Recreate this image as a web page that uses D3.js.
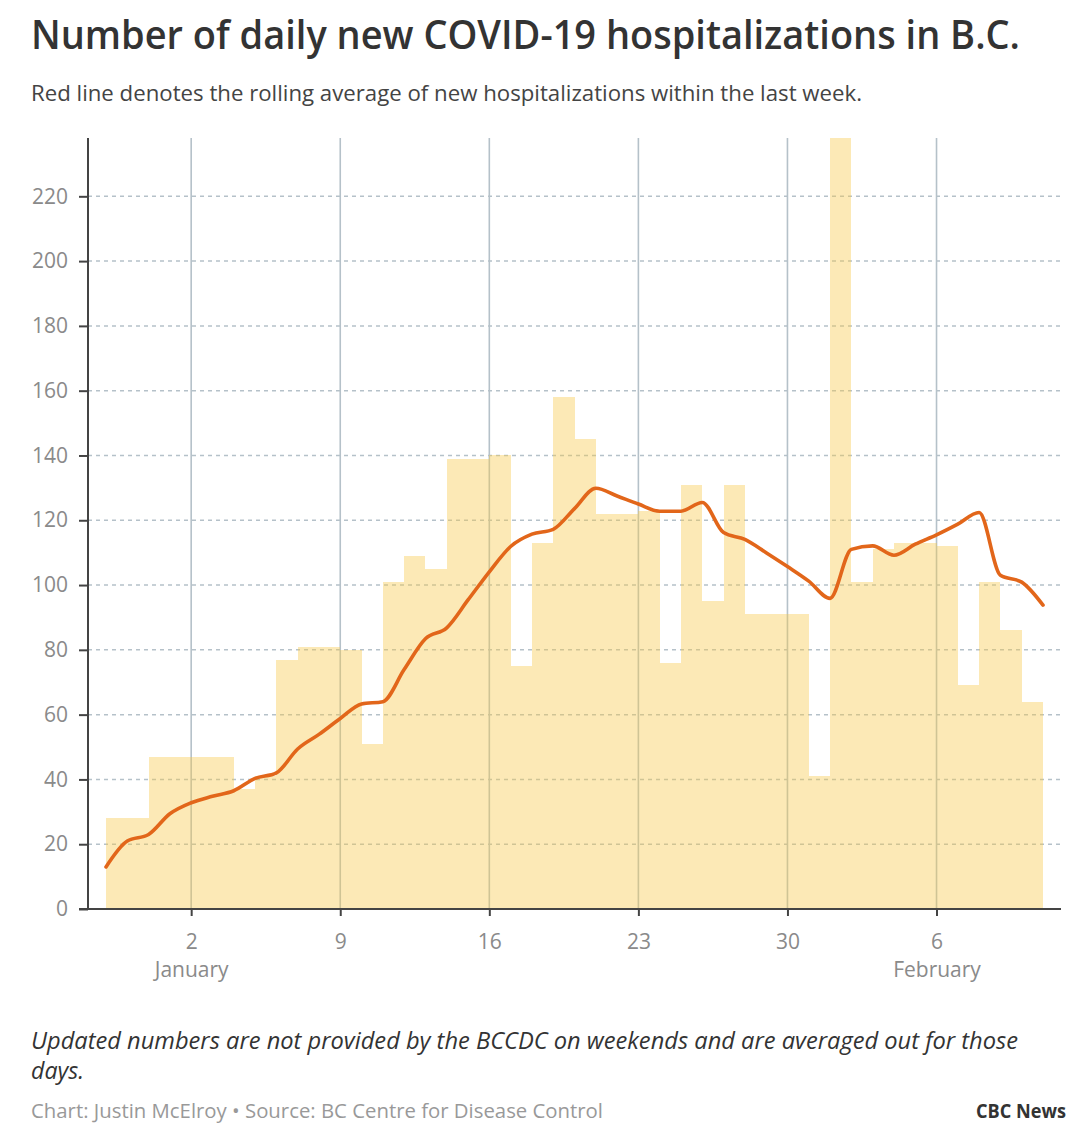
<!DOCTYPE html>
<html><head><meta charset="utf-8">
<script src="https://cdn.jsdelivr.net/npm/d3@7"></script>
<style>body{margin:0;background:#fff} svg{display:block}</style>
</head><body>
<svg id="c" width="1080" height="1133"></svg>
<script>
// ---- data ----
const title = "Number of daily new COVID-19 hospitalizations in B.C.";
const subtitle = "Red line denotes the rolling average of new hospitalizations within the last week.";
const noteLines = ["Updated numbers are not provided by the BCCDC on weekends and are averaged out for those", "days."];
const credit = "Chart: Justin McElroy \u2022 Source: BC Centre for Disease Control";
const brand = "CBC News";

const firstDay = "2020-12-29";
const dailyNew = [28,28,47,47,47,47,37,41,77,81,81,80,51,101,109,105,139,139,140,75,113,158,145,122,122,123,76,131,95,131,91,91,91,41,238,101,111,113,113,112,69,101,86,64];
const rollingAvg = [13,21,23,29.4,32.8,34.8,36.5,40.3,42,49.4,53.9,58.8,63.3,64,73.9,83.4,86.8,95.4,104.1,111.9,115.7,117.2,123.6,129.9,127.5,125,122.8,122.8,125.5,116.2,114.1,110,105.7,101.2,95.9,111,112.1,109.2,112.6,115.5,118.8,122.4,103,100.9,93.8];
const yTicks = [0,20,40,60,80,100,120,140,160,180,200,220];
const xTickDates = ["2021-01-02","2021-01-09","2021-01-16","2021-01-23","2021-01-30","2021-02-06"];
const xTickLabels = ["2","9","16","23","30","6"];
const monthLabels = ["January","","","","","February"];

// ---- layout ----
const svg = d3.select("#c");
const plot = {left: 88, right: 1061, top: 138, bottom: 909, x0: 106, x1: 1043};
const parse = d3.utcParse("%Y-%m-%d");
const start = parse(firstDay);
const barDates = dailyNew.map((v, i) => d3.utcDay.offset(start, i));
const lineDates = rollingAvg.map((v, i) => d3.utcDay.offset(start, i));
const end = d3.utcDay.offset(start, dailyNew.length);

const x = d3.scaleUtc().domain([start, end]).range([plot.x0, plot.x1]);
const y = d3.scaleLinear().domain([0, d3.max(dailyNew)]).range([plot.bottom, plot.top]);

const gridCol = "#b5c1c9";
const labelCol = "#8a8a8a";
const font = "'Open Sans', 'Noto Sans', sans-serif";

// horizontal dotted grid
svg.append("g").selectAll("line").data(yTicks.filter(t => t > 0)).join("line")
  .attr("x1", plot.left).attr("x2", plot.right)
  .attr("y1", d => y(d)).attr("y2", d => y(d))
  .attr("stroke", gridCol).attr("stroke-width", 1.5).attr("stroke-dasharray", "4,4");

// vertical grid
svg.append("g").selectAll("line").data(xTickDates).join("line")
  .attr("x1", d => x(parse(d))).attr("x2", d => x(parse(d)))
  .attr("y1", plot.top).attr("y2", plot.bottom)
  .attr("stroke", gridCol).attr("stroke-width", 1.6);

// bars
svg.append("g").attr("shape-rendering", "crispEdges").selectAll("rect").data(dailyNew).join("rect")
  .attr("x", (d, i) => Math.round(x(barDates[i])))
  .attr("width", (d, i) => Math.round(x(d3.utcDay.offset(barDates[i], 1))) - Math.round(x(barDates[i])))
  .attr("y", d => y(d))
  .attr("height", d => y(0) - y(d))
  .attr("fill", "#f7c948").attr("fill-opacity", 0.4);

// line
const line = d3.line().x((d, i) => x(lineDates[i])).y(d => y(d)).curve(d3.curveMonotoneX);
svg.append("path").datum(rollingAvg).attr("d", line)
  .attr("fill", "none").attr("stroke", "#e2661a").attr("stroke-width", 3.6)
  .attr("stroke-linejoin", "round").attr("stroke-linecap", "round");

// y axis
const yAxis = d3.axisLeft(y).tickValues(yTicks).tickSize(9).tickPadding(11);
const gy = svg.append("g").attr("transform", `translate(${plot.left},0)`).call(yAxis);
gy.select(".domain").attr("stroke", "#444").attr("stroke-width", 2).attr("d", `M0,${plot.top}V${plot.bottom}`);
gy.selectAll(".tick line").attr("stroke", "#444").attr("stroke-width", 2);
gy.selectAll(".tick text").attr("fill", labelCol).style("font-family", font).style("font-size", "21px");

// x axis
const xAxis = d3.axisBottom(x).tickValues(xTickDates.map(parse)).tickSize(7).tickPadding(8)
  .tickFormat((d, i) => xTickLabels[i]);
const gx = svg.append("g").attr("transform", `translate(0,${plot.bottom})`).call(xAxis);
gx.select(".domain").attr("stroke", "#444").attr("stroke-width", 2).attr("d", `M${plot.left - 9},0H${plot.right}`);
gx.selectAll(".tick line").attr("stroke", "#444").attr("stroke-width", 2);
gx.selectAll(".tick text").attr("fill", labelCol).style("font-family", font).style("font-size", "21px")
  .attr("dy", "1.2em");
gx.selectAll(".tick").append("text")
  .text((d, i) => monthLabels[i])
  .attr("y", 68).attr("text-anchor", "middle")
  .attr("fill", labelCol).style("font-family", font).style("font-size", "21px");

// texts
function fitText(sel, w) {
  sel.attr("textLength", w).attr("lengthAdjust", "spacingAndGlyphs");
}
svg.append("text").text(title).attr("x", 31).attr("y", 49)
  .attr("fill", "#333").style("font-family", font).style("font-weight", 600).style("font-size", "40px")
  .call(fitText, 989);
svg.append("text").text(subtitle).attr("x", 31).attr("y", 101)
  .attr("fill", "#444").style("font-family", font).style("font-size", "21px")
  .call(fitText, 831);
svg.append("text").text(noteLines[0]).attr("x", 31).attr("y", 1049)
  .attr("fill", "#333").style("font-family", font).style("font-style", "italic").style("font-size", "23px")
  .call(fitText, 987);
svg.append("text").text(noteLines[1]).attr("x", 31).attr("y", 1079)
  .attr("fill", "#333").style("font-family", font).style("font-style", "italic").style("font-size", "23px")
  .call(fitText, 53);
svg.append("text").text(credit).attr("x", 31).attr("y", 1118)
  .attr("fill", "#999").style("font-family", font).style("font-size", "20px")
  .call(fitText, 572);
svg.append("text").text(brand).attr("x", 1066).attr("y", 1118).attr("text-anchor", "end")
  .attr("fill", "#333").style("font-family", font).style("font-weight", 700).style("font-size", "20px")
  .call(fitText, 90);
</script>
</body></html>
